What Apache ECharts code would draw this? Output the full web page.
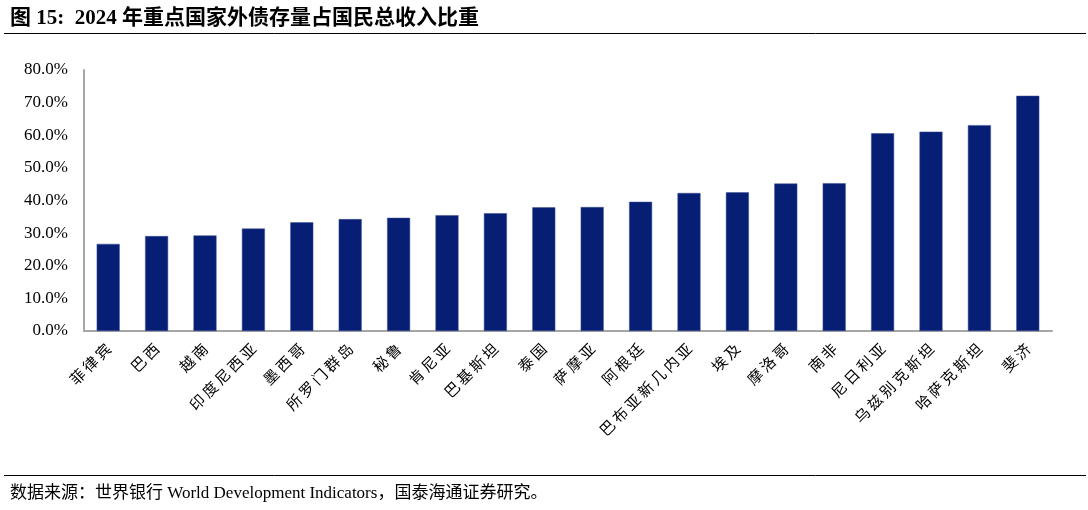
<!DOCTYPE html>
<html><head><meta charset="utf-8">
<script src="https://cdn.jsdelivr.net/npm/echarts@6/dist/echarts.min.js"></script>
<style>html,body{margin:0;padding:0;background:#fff;}#c{width:1088px;height:510px;}</style>
</head><body><div id="c"></div>
<script>
const categories = ["菲律宾","巴西","越南","印度尼西亚","墨西哥","所罗门群岛","秘鲁","肯尼亚","巴基斯坦","泰国","萨摩亚","阿根廷","巴布亚新几内亚","埃及","摩洛哥","南非","尼日利亚","乌兹别克斯坦","哈萨克斯坦","斐济"];
const values = [26.7,29.1,29.3,31.4,33.3,34.3,34.7,35.5,36.1,37.9,38.0,39.6,42.3,42.5,45.2,45.3,60.6,61.1,63.1,72.1];
const yTicks = {min:0,max:80,interval:10};
const titleText = "图 15:  2024 年重点国家外债存量占国民总收入比重";
const sourceText = "数据来源：世界银行 World Development Indicators，国泰海通证券研究。";

const chart = echarts.init(document.getElementById('c'), null, {renderer:'canvas'});
chart.setOption({
  animation:false,
  backgroundColor:'#fff',
  title:[{text:titleText,left:10,top:8,padding:0,textStyle:{fontFamily:'"Liberation Serif","Noto Sans CJK SC"',fontWeight:'bold',fontSize:21,color:'#000'}},
         {text:sourceText,left:10,top:485,padding:0,textStyle:{fontFamily:'"Liberation Serif","Noto Sans CJK SC"',fontWeight:'normal',fontSize:17,color:'#000'}}],
  graphic:[
    {type:'line',shape:{x1:4,y1:33.5,x2:1086,y2:33.5},style:{stroke:'#000',lineWidth:1}},
    {type:'line',shape:{x1:4,y1:475.5,x2:1086,y2:475.5},style:{stroke:'#000',lineWidth:1}}
  ],
  grid:{left:84,right:36,top:70,bottom:179,containLabel:false},
  xAxis:{type:'category',data:categories,
    axisLine:{lineStyle:{color:'#a6a6a6',width:2}},
    axisTick:{show:false},
    axisLabel:{interval:0,rotate:45,margin:15,fontFamily:'"Noto Sans CJK SC"',fontSize:15,color:'#000',
      formatter:v=>v.split('').join('\u2009')}},
  yAxis:{type:'value',min:yTicks.min,max:yTicks.max,interval:yTicks.interval,
    splitLine:{show:false},
    axisLine:{show:true,lineStyle:{color:'#a6a6a6',width:2}},
    axisTick:{show:false},
    axisLabel:{formatter:v=>v.toFixed(1)+'%',margin:16,fontFamily:'"Liberation Serif"',fontSize:17,color:'#000'}},
  series:[{type:'bar',data:values,barWidth:23,itemStyle:{color:'#061f74',borderColor:'#3d4f95',borderWidth:0.5}}]
});
</script></body></html>
